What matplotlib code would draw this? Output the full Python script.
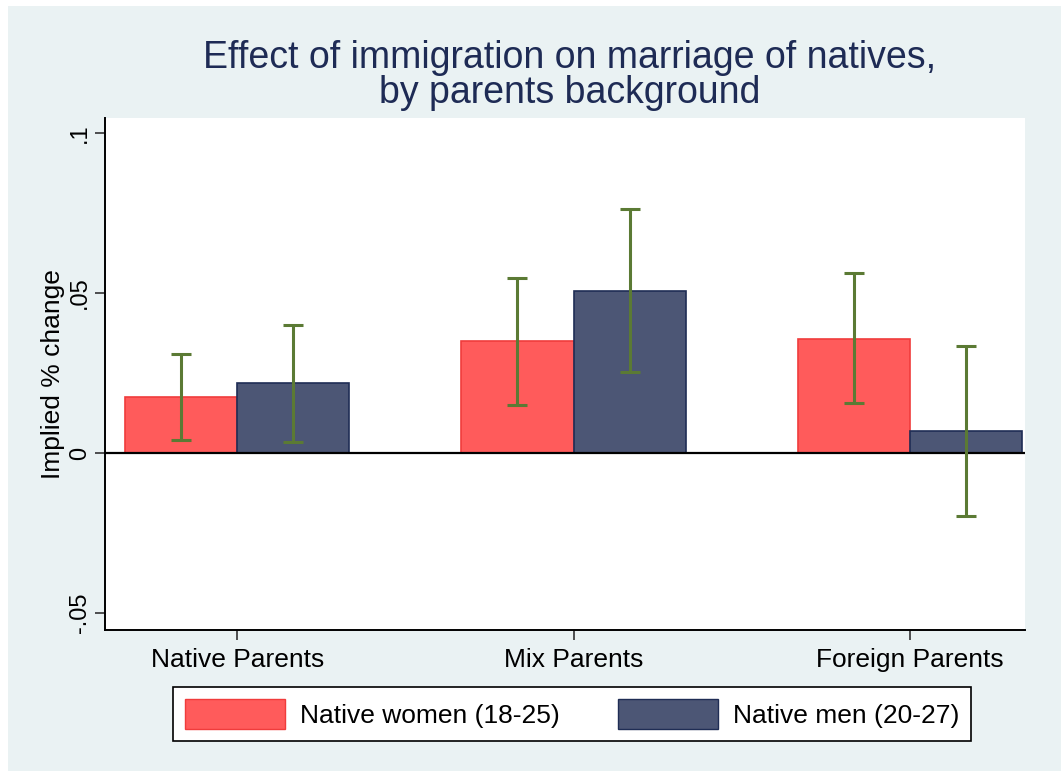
import matplotlib
matplotlib.use("Agg")
import matplotlib.pyplot as plt
from matplotlib.patches import Rectangle, Patch
import numpy as np

plt.rcParams['font.family'] = ['Liberation Sans', 'DejaVu Sans']

categories = ["Native Parents", "Mix Parents", "Foreign Parents"]
series_names = ["Native women (18-25)", "Native men (20-27)"]
women = [0.0175, 0.0350, 0.0356]
women_lo = [0.0040, 0.0150, 0.0156]
women_hi = [0.0310, 0.0547, 0.0563]
men = [0.0219, 0.0506, 0.0069]
men_lo = [0.0034, 0.0253, -0.0197]
men_hi = [0.0400, 0.0763, 0.0334]
yticks = [-0.05, 0, 0.05, 0.1]
ytick_labels = ["-.05", "0", ".05", ".1"]

W, H = 1061, 771
fig = plt.figure(figsize=(W / 100, H / 100), dpi=100, facecolor="white")
bg = "#EAF2F3"
fig.patches.append(Rectangle((8 / W, 0), 1, 1 - 6 / H, transform=fig.transFigure,
                             facecolor=bg, edgecolor="none", zorder=-10))

ax = fig.add_axes([105 / W, 1 - 630 / H, 920 / W, 512 / H])
ax.set_facecolor("white")

x = np.arange(len(categories))
bw = 1 / 3
red, red_edge = "#FF5B5B", "#F03C3C"
navy, navy_edge = "#4C5675", "#1F2D55"
err_col = "#5B7A34"

ax.bar(x - bw / 2, women, width=bw, color=red, edgecolor=red_edge, linewidth=1.2, zorder=2)
ax.bar(x + bw / 2, men, width=bw, color=navy, edgecolor=navy_edge, linewidth=1.2, zorder=2)

ax.axhline(0, color="black", linewidth=1.6, zorder=3)

for xs, lo, hi in [(x - bw / 2, women_lo, women_hi), (x + bw / 2, men_lo, men_hi)]:
    mid = [(a + b) / 2 for a, b in zip(lo, hi)]
    yerr = [[m - a for m, a in zip(mid, lo)], [b - m for m, b in zip(mid, hi)]]
    ax.errorbar(xs, mid, yerr=yerr, fmt="none", ecolor=err_col, elinewidth=2.2,
                capsize=7, capthick=2.2, zorder=4)

ax.set_xlim(-132 / 336, 2 + 115 / 336)
ax.set_ylim(-0.0553, 0.1047)
ax.set_xticks(x)
ax.set_xticklabels(categories, fontsize=19)
ax.set_yticks(yticks)
ax.set_yticklabels(ytick_labels, fontsize=17, rotation=90, va="center")
ax.tick_params(axis="both", length=7, width=1.2, color="#333333")
ax.tick_params(axis="x", pad=6)
ax.tick_params(axis="y", pad=3)
ax.set_ylabel("Implied % change", fontsize=19, labelpad=3)
for s in ["top", "right"]:
    ax.spines[s].set_visible(False)
for s in ["left", "bottom"]:
    ax.spines[s].set_linewidth(1.4)

fig.text(570 / W, 1 - 58 / H, "Effect of immigration on marriage of natives,",
         ha="center", va="center", fontsize=27, color="#1E2B55")
fig.text(570 / W, 1 - 93 / H, "by parents background",
         ha="center", va="center", fontsize=27, color="#1E2B55")

handles = [Patch(facecolor=red, edgecolor=red_edge, label=series_names[0]),
           Patch(facecolor=navy, edgecolor=navy_edge, label=series_names[1])]
leg = fig.legend(handles=handles, loc="center", bbox_to_anchor=(572 / W, 1 - 714 / H),
                 ncol=2, fontsize=19, frameon=True, fancybox=False, edgecolor="black",
                 framealpha=1, facecolor="white",
                 handlelength=3.8, handleheight=1.4, columnspacing=2.2, handletextpad=0.57,
                 borderpad=0.45)
leg.get_frame().set_linewidth(1.2)

fig.savefig("out.png", dpi=100, facecolor="white")
